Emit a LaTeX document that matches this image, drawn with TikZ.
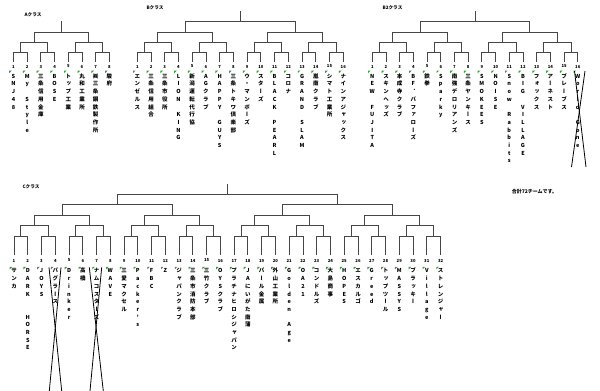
\documentclass[tikz,border=0pt]{standalone}
\usepackage{fontspec}
\newfontfamily\jph{Noto Sans CJK JP}
\newfontfamily\jpv[RawFeature={+vert}]{Noto Sans CJK JP}
\makeatletter
\newcommand\vtext[1]{\vtop{\baselineskip=7.7pt\lineskiplimit=-20pt\lineskip=0pt\@tfor\vt@c:=#1\do{\hbox to 6pt{\hss\vt@c\hss}}}}
\newcommand\vtx[1]{\expandafter\vtext\expandafter{#1}}
\makeatother
\definecolor{mkgreen}{RGB}{40,165,40}
\tikzset{
  bline/.style={draw={rgb,255:red,70;green,70;blue,70}, line width=0.9pt},
  xline/.style={draw=black, line width=0.8pt},
  numtxt/.style={inner sep=0pt, font=\jph\bfseries\fontsize{4.2}{4.2}\selectfont},
  nametxt/.style={inner sep=0pt, anchor=base, font=\jpv\bfseries\fontsize{5.5}{6}\selectfont},
  lbl/.style={inner sep=0pt, font=\jph\bfseries\fontsize{4.6}{5}\selectfont},
  markg/.style={fill=mkgreen}
}
% #1 x0, #2 step, #3 N, #4 list ya/yb, #5 last level y, #6 top y
\newcommand\bracket[6]{%
  \foreach \ya/\yb [count=\lv] in {#4} {
    \pgfmathtruncatemacro\gs{2^\lv}
    \pgfmathtruncatemacro\ng{#3/\gs-1}
    \foreach \gi in {0,...,\ng} {
      \pgfmathsetmacro\xl{#1+#2*(\gi*\gs+(\gs/2-1)/2)}
      \pgfmathsetmacro\xr{#1+#2*(\gi*\gs+\gs/2+(\gs/2-1)/2)}
      \draw[bline] (\xl,\ya) -- (\xl,\yb) -- (\xr,\yb) -- (\xr,\ya);
    }
  }
  \pgfmathsetmacro\xc{#1+#2*(#3-1)/2}
  \draw[bline] (\xc,#5) -- (\xc,#6);
}
% #1 prefix, #2 x0, #3 step, #4 num y, #5 mark y, #6 name baseline, #7 names
\newcommand\teams[7]{%
  \foreach \n [count=\i] in {#7} {
    \pgfmathsetmacro\x{#2+#3*(\i-1)}
    \node[numtxt] (#1n\i) at (\x,#4) {\i};
    \fill[markg] (\x-4.3,#5) -- ++(2.6,0) -- ++(-2.6,2.6) -- cycle;
    \node[nametxt] (#1t\i) at (\x,#6) {\vtx{\n}};
  }
}
\begin{document}
\begin{tikzpicture}[x=1pt,y=-1pt]
\useasboundingbox (0,0) rectangle (600,391);
\fill[white] (0,0) rectangle (600,391);

% labels
\node[lbl] (labA) at (33,15) {Aクラス};
\node[lbl] (labB) at (155,7.3) {Bクラス};
\node[lbl] (labB2) at (392.5,7.3) {B2クラス};
\node[lbl] (labC) at (31,187) {Cクラス};
\node[lbl, font=\jph\bfseries\fontsize{5}{6}\selectfont] (total) at (534.5,191.5) {合計72チームです。};

% brackets
\bracket{13.5}{13.7}{8}{62/52,52/42,42/32}{32}{21}
\bracket{137.3}{13.73}{16}{62/52,52/42,42/32,32/21}{21}{11}
\bracket{372.3}{13.7}{16}{62/52,52/42,42/32,32/21}{21}{11}
\bracket{14}{13.76}{32}{255/236.7,236.7/225.5,225.5/215,215/204.5,204.5/194}{194}{184}

% teams
\teams{A}{13.5}{13.7}{66.5}{70.6}{78.2}{SNJ48,My~Style,三条信用金庫,BOSE,トップ工業,丸和工業所,㈱三条鋼鉄製作所,駿府}
\teams{B}{137.3}{13.73}{66.5}{70.6}{78.2}{エンゼルス,三条信用組合,三条市役所,LION~KING,新潟運転代行協,AGクラブ,HAPPY~GUYS,三条トキワ倶楽部,ウ・マンボーズ,スターズ,BLACK~PEARL,コロナ,GRAND~SLAM,嵐南クラブ,シマト工業所,ナインアジャックス}
\teams{BB}{372.3}{13.7}{66.5}{70.6}{78.2}{NEW~FUJITA,スキンヘッズ,本成寺クラブ,BF．バファローズ,鉄拳,Sparky,南強デロリアンズ,三条ヤンキース,SMOKEES,NOISE,Snow~Rabbits,BIG~VILLAGE,フォックス,アーネスト,ブレーブス,World~Gone}
\teams{C}{14}{13.76}{260.5}{266.8}{272.9}{サンカ,DARK~~HORSE,JOYS,パグラース,Drinker,高橋,ナムコスターズ,WAVE,三愛マクセル,Packer's,FBC,Z,ジャパンクラブ,三条市消防本部,三竹クラブ,OYSクラブ,プラチナヒロシジャパン,JAにいがた南蒲,パール金属,外山工業所,Golden~Age,OA21,コンドルズ,大島商事,HOPES,エスカルゴ,Greed,トップツール,MASSYS,ブラッキー,Village,ストレンジャー}

% crossed-out entries
\coordinate (x1a) at (574.5,71); \coordinate (x1b) at (586,167);
\coordinate (x1c) at (585,71);   \coordinate (x1d) at (571.5,167);
\draw[xline] (x1a) -- (x1b); \draw[xline] (x1c) -- (x1d);
\coordinate (x2a) at (49,267.3); \coordinate (x2b) at (61.7,391);
\coordinate (x2c) at (61,267.3); \coordinate (x2d) at (49.3,391);
\draw[xline] (x2a) -- (x2b); \draw[xline] (x2c) -- (x2d);
\coordinate (x3a) at (89.3,267.3); \coordinate (x3b) at (103.3,391);
\coordinate (x3c) at (101.7,267.3); \coordinate (x3d) at (90,391);
\draw[xline] (x3a) -- (x3b); \draw[xline] (x3c) -- (x3d);
\end{tikzpicture}
\end{document}
